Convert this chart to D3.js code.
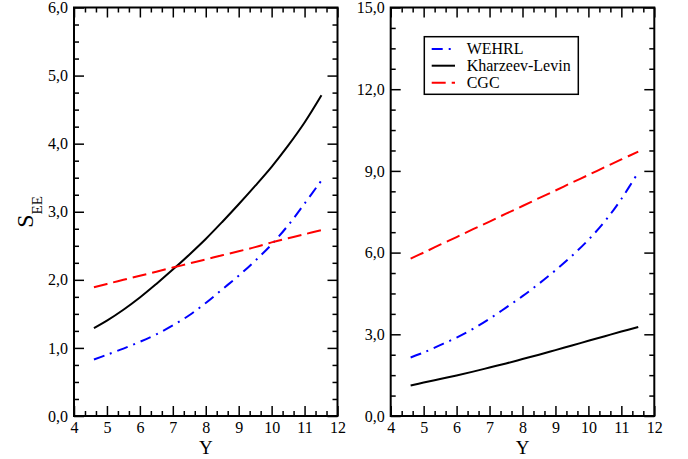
<!DOCTYPE html>
<html>
<head>
<meta charset="utf-8">
<script src="https://cdn.jsdelivr.net/npm/d3@7"></script>
<style>
  html, body { margin: 0; padding: 0; background: #fff; }
  svg { display: block; }
  text { font-family: "Liberation Serif", "Times New Roman", serif; fill: #000; }
</style>
</head>
<body>
<svg id="chart" width="688" height="459"></svg>
<script>
// Rapidity grid Y = ln(1/x), x from 1e-2 down to 1e-5
const rapidity = [4.605, 5.0, 5.5, 6.0, 6.5, 7.0, 7.5, 8.0, 8.5, 9.0, 9.5, 10.0, 10.5, 11.0, 11.513];

// Left panel entropies
const leftWehrl = [0.83, 0.90, 0.99, 1.09, 1.20, 1.33, 1.48, 1.66, 1.86, 2.06, 2.28, 2.52, 2.80, 3.12, 3.46];
const leftKL    = [1.29, 1.40, 1.56, 1.74, 1.94, 2.15, 2.37, 2.60, 2.85, 3.11, 3.38, 3.66, 3.97, 4.31, 4.71];
const leftCGC   = [1.89, 1.94, 2.00, 2.06, 2.12, 2.18, 2.24, 2.30, 2.36, 2.42, 2.48, 2.55, 2.61, 2.67, 2.73];

// Right panel entropies
const rightWehrl = [2.15, 2.33, 2.60, 2.88, 3.20, 3.57, 3.98, 4.40, 4.86, 5.35, 5.88, 6.47, 7.15, 7.97, 8.95];
const rightKL    = [1.12, 1.23, 1.36, 1.49, 1.63, 1.78, 1.93, 2.09, 2.25, 2.42, 2.59, 2.76, 2.93, 3.10, 3.27];
const rightCGC   = [5.78, 6.00, 6.29, 6.57, 6.86, 7.14, 7.43, 7.71, 8.00, 8.28, 8.57, 8.85, 9.14, 9.42, 9.71];

// Axis ticks
const xMajorTicks = [4, 5, 6, 7, 8, 9, 10, 11, 12];
const leftYMajor = [0, 1, 2, 3, 4, 5, 6];
const rightYMajor = [0, 3, 6, 9, 12, 15];

const seriesNames = ["WEHRL", "Kharzeev-Levin", "CGC"];

const styles = {
  "WEHRL": { color: "#0000ff", dash: "11,6,2,6" },
  "Kharzeev-Levin": { color: "#000000", dash: null },
  "CGC": { color: "#ff0000", dash: "14,6" }
};

const svg = d3.select("#chart");
svg.append("rect").attr("width", 688).attr("height", 459).attr("fill", "#fff");

const fmt = d => d3.format(".1f")(d).replace(".", ",");

function range(a, b, step) {
  const out = [];
  for (let v = a; v <= b + 1e-9; v += step) out.push(+v.toFixed(6));
  return out;
}

function panel(opts) {
  const { x0, x1, y0, y1, yMax, yMajor, yMinorStep, data } = opts;
  const x = d3.scaleLinear().domain([4, 12]).range([x0, x1]);
  const y = d3.scaleLinear().domain([0, yMax]).range([y1, y0]);
  const g = svg.append("g");

  const xMinor = range(4, 12, 1 / 3).filter(v => Math.abs(v - Math.round(v)) > 1e-3);
  const yMinor = range(0, yMax, yMinorStep).filter(v => !yMajor.some(m => Math.abs(m - v) < 1e-6));

  const styleAxis = sel => {
    sel.select(".domain").remove();
    sel.attr("font-family", null).attr("font-size", null);
    sel.selectAll("line").attr("stroke", "#000").attr("stroke-width", 1.5);
    sel.selectAll("text").attr("font-size", 16);
  };

  // bottom: labelled majors + minors, ticks pointing inward
  g.append("g").attr("transform", `translate(0,${y1})`)
    .call(d3.axisBottom(x).tickValues(xMajorTicks).tickSize(-10).tickPadding(6).tickFormat(d3.format("d")))
    .call(styleAxis);
  g.append("g").attr("transform", `translate(0,${y1})`)
    .call(d3.axisBottom(x).tickValues(xMinor).tickSize(-5).tickFormat(""))
    .call(styleAxis);
  // top mirror
  g.append("g").attr("transform", `translate(0,${y0})`)
    .call(d3.axisTop(x).tickValues(xMajorTicks).tickSize(-10).tickFormat(""))
    .call(styleAxis);
  g.append("g").attr("transform", `translate(0,${y0})`)
    .call(d3.axisTop(x).tickValues(xMinor).tickSize(-5).tickFormat(""))
    .call(styleAxis);
  // left
  g.append("g").attr("transform", `translate(${x0},0)`)
    .call(d3.axisLeft(y).tickValues(yMajor).tickSize(-10).tickPadding(6).tickFormat(fmt))
    .call(styleAxis);
  g.append("g").attr("transform", `translate(${x0},0)`)
    .call(d3.axisLeft(y).tickValues(yMinor).tickSize(-5).tickFormat(""))
    .call(styleAxis);
  // right mirror
  g.append("g").attr("transform", `translate(${x1},0)`)
    .call(d3.axisRight(y).tickValues(yMajor).tickSize(-10).tickFormat(""))
    .call(styleAxis);
  g.append("g").attr("transform", `translate(${x1},0)`)
    .call(d3.axisRight(y).tickValues(yMinor).tickSize(-5).tickFormat(""))
    .call(styleAxis);

  // frame
  g.append("rect")
    .attr("x", x0).attr("y", y0)
    .attr("width", x1 - x0).attr("height", y1 - y0)
    .attr("fill", "none").attr("stroke", "#000").attr("stroke-width", 2);

  // curves
  const line = d3.line()
    .x((d, i) => x(rapidity[i]))
    .y(d => y(d))
    .curve(d3.curveCatmullRom.alpha(0.5));

  seriesNames.forEach(name => {
    g.append("path")
      .datum(data[name])
      .attr("d", line)
      .attr("fill", "none")
      .attr("stroke", styles[name].color)
      .attr("stroke-width", 2)
      .attr("stroke-dasharray", styles[name].dash);
  });

  // x-axis title
  g.append("text")
    .attr("x", (x0 + x1) / 2).attr("y", 454)
    .attr("text-anchor", "middle")
    .attr("font-size", 19)
    .text("Y");

  return { x, y };
}

panel({
  x0: 74, x1: 337.5, y0: 7.5, y1: 416, yMax: 6, yMajor: leftYMajor, yMinorStep: 0.25,
  data: { "WEHRL": leftWehrl, "Kharzeev-Levin": leftKL, "CGC": leftCGC }
});

panel({
  x0: 390.7, x1: 654.3, y0: 7.5, y1: 416, yMax: 15, yMajor: rightYMajor, yMinorStep: 0.75,
  data: { "WEHRL": rightWehrl, "Kharzeev-Levin": rightKL, "CGC": rightCGC }
});

// y-axis title S_EE
const ylab = svg.append("text")
  .attr("transform", "translate(33,212) rotate(-90)")
  .attr("text-anchor", "middle");
ylab.append("tspan").attr("font-size", 24).text("S");
ylab.append("tspan").attr("font-size", 15).attr("dy", 9).text("EE");

// legend
const legend = svg.append("g");
legend.append("rect")
  .attr("x", 424.3).attr("y", 36.7)
  .attr("width", 154).attr("height", 57.6)
  .attr("fill", "#fff").attr("stroke", "#000").attr("stroke-width", 1.5);

const legendRows = [49, 65.7, 82.7];
seriesNames.forEach((name, i) => {
  const cy = legendRows[i];
  legend.append("line")
    .attr("x1", 431.7).attr("x2", 455)
    .attr("y1", cy).attr("y2", cy)
    .attr("stroke", styles[name].color)
    .attr("stroke-width", 2)
    .attr("stroke-dasharray", styles[name].dash);
  legend.append("text")
    .attr("x", 466.7).attr("y", cy + 5.4)
    .attr("font-size", 16)
    .text(name);
});
</script>
</body>
</html>
